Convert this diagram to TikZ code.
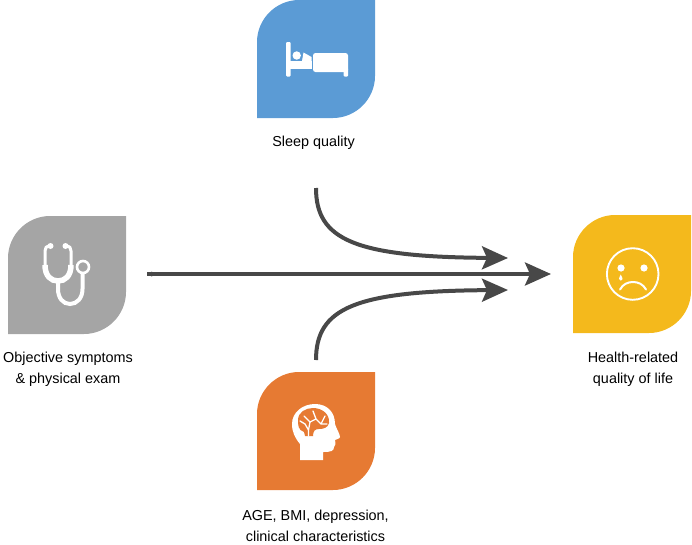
\documentclass[tikz,border=0pt]{standalone}
\usepackage{fontspec}
\setmainfont{Liberation Sans}
\usetikzlibrary{arrows.meta}
\definecolor{cblue}{HTML}{5B9BD5}
\definecolor{cgray}{HTML}{A5A5A5}
\definecolor{corange}{HTML}{E67A33}
\definecolor{cyellow}{HTML}{F4B91C}
\definecolor{cline}{HTML}{484848}
\tikzset{
  x=1pt,y=-1pt,
  label text/.style={font=\fontsize{14.4}{21}\selectfont,align=center,text=black,inner sep=0pt},
  flow/.style={draw=cline,line width=4pt,-{Stealth[length=26pt,width=23pt,inset=5pt]}},
}
\newcommand{\leaf}[3]{%
  \fill[#3] (#1,#2+118) -- (#1,#2+42) .. controls (#1,#2+19) and (#1+19,#2) .. (#1+42,#2)
   -- (#1+118,#2) -- (#1+118,#2+76) .. controls (#1+118,#2+99) and (#1+99,#2+118) .. (#1+76,#2+118) -- cycle;}
\begin{document}
\begin{tikzpicture}
\useasboundingbox (0,0) rectangle (692,544);
\leaf{257}{0}{cblue}
\leaf{8}{216}{cgray}
\leaf{257}{372}{corange}
\leaf{573}{215}{cyellow}

% bed
\fill[white,rounded corners=1pt] (286,42) rectangle (290.5,76.5);
\fill[white] (290,60.5) rectangle (311.5,69);
\fill[white] (296.7,55.5) circle (4.2);
\fill[white] (302,61) -- (303.5,52.5) -- (311.5,57) -- (311.5,61) -- cycle;
\fill[white,rounded corners=2.5pt] (313,53) rectangle (348,72);
\fill[white,rounded corners=1pt] (343.5,68) rectangle (348,76.5);

% stethoscope
\draw[white,line width=3pt,line cap=round] (50.5,246) .. controls (46,246) and (45,248) .. (45,251) -- (45,266);
\draw[white,line width=3pt,line cap=round] (65.5,246) .. controls (70,246) and (71,248) .. (71,251) -- (71,266);
\fill[white] (50.5,246) circle (3) (65.5,246) circle (3);
\draw[white,line width=5.5pt] (45,265) .. controls (45,276) and (51,281) .. (58,281) .. controls (65,281) and (71,276) .. (71,265);
\draw[white,line width=4pt] (58,283) -- (58,289) .. controls (58,298) and (63,304) .. (70,304) .. controls (77,304) and (82.5,298) .. (82.5,289) -- (82.5,273);
\draw[white,line width=2.6pt] (83,267) circle (6);

% head
\fill[white] (300,460) -- (300,444) .. controls (295,438) and (292,432) .. (292,424)
  .. controls (292,412) and (303,404) .. (315,404)
  .. controls (327,404) and (335,412) .. (335,424)
  .. controls (336,428) and (340,434) .. (340,437)
  .. controls (340,439) and (336,439) .. (335,440)
  .. controls (336,444) and (335,446) .. (334,447)
  .. controls (334,451) and (331,452) .. (323,452) -- (323,460) -- cycle;
\fill[corange] (298,420) .. controls (298,412) and (306,408) .. (313,408)
  .. controls (322,408) and (330,414) .. (329,423)
  .. controls (328,428) and (323,429) .. (319,429)
  .. controls (315,429) and (313,431) .. (313,436)
  -- (305,436) -- (304,432) .. controls (298,430) and (298,425) .. (298,420) -- cycle;
\draw[white,line width=1.3pt,line cap=round,line join=round]
  (308.5,436) -- (308.5,430) -- (305,424) -- (300,421)
  (308.5,430) -- (310,422) -- (304,416)
  (310,422) -- (316,419) -- (313,411)
  (316,419) -- (321,424) -- (327,424)
  (321,424) -- (325,416);

% sad face
\draw[white,line width=1.9pt] (632.7,274) circle (25.8);
\fill[white] (621,268) circle (3.6) (644,268) circle (3.6);
\fill[white] (620.7,274.5) .. controls (619.5,277) and (619,278) .. (619,279) .. controls (619,281.3) and (622.5,281.3) .. (622.5,279) .. controls (622.5,278) and (622,277) .. (620.7,274.5) -- cycle;
\draw[white,line width=2pt,line cap=round] (620,289.5) .. controls (623,284) and (628,282) .. (633,282) .. controls (638,282) and (643,284) .. (646,289.5);

% labels
\node[label text] (sleep) at (313.5,143) {Sleep quality};
\node[label text] (objective) at (68,369.5) {Objective symptoms\\\& physical exam};
\node[label text] (hrql) at (633,369.5) {Health-related\\quality of life};
\node[label text] (age) at (315.5,525.5) {AGE, BMI, depression,\\clinical characteristics};

% connectors
\coordinate (sleepStart) at (316,188);
\coordinate (sleepEnd) at (508,258);
\coordinate (examStart) at (147,274);
\coordinate (hrqlEnd) at (551,274);
\coordinate (ageStart) at (316,360);
\coordinate (ageEnd) at (508,290);
\fill[cline] (147,274) -- (152,271.5) -- (152,276.5) -- cycle;
\draw[flow] (examStart) -- (hrqlEnd);
\draw[flow] (sleepStart) .. controls (316,240) and (355,257) .. (sleepEnd);
\draw[flow] (ageStart) .. controls (316,308) and (355,291) .. (ageEnd);
\end{tikzpicture}
\end{document}
